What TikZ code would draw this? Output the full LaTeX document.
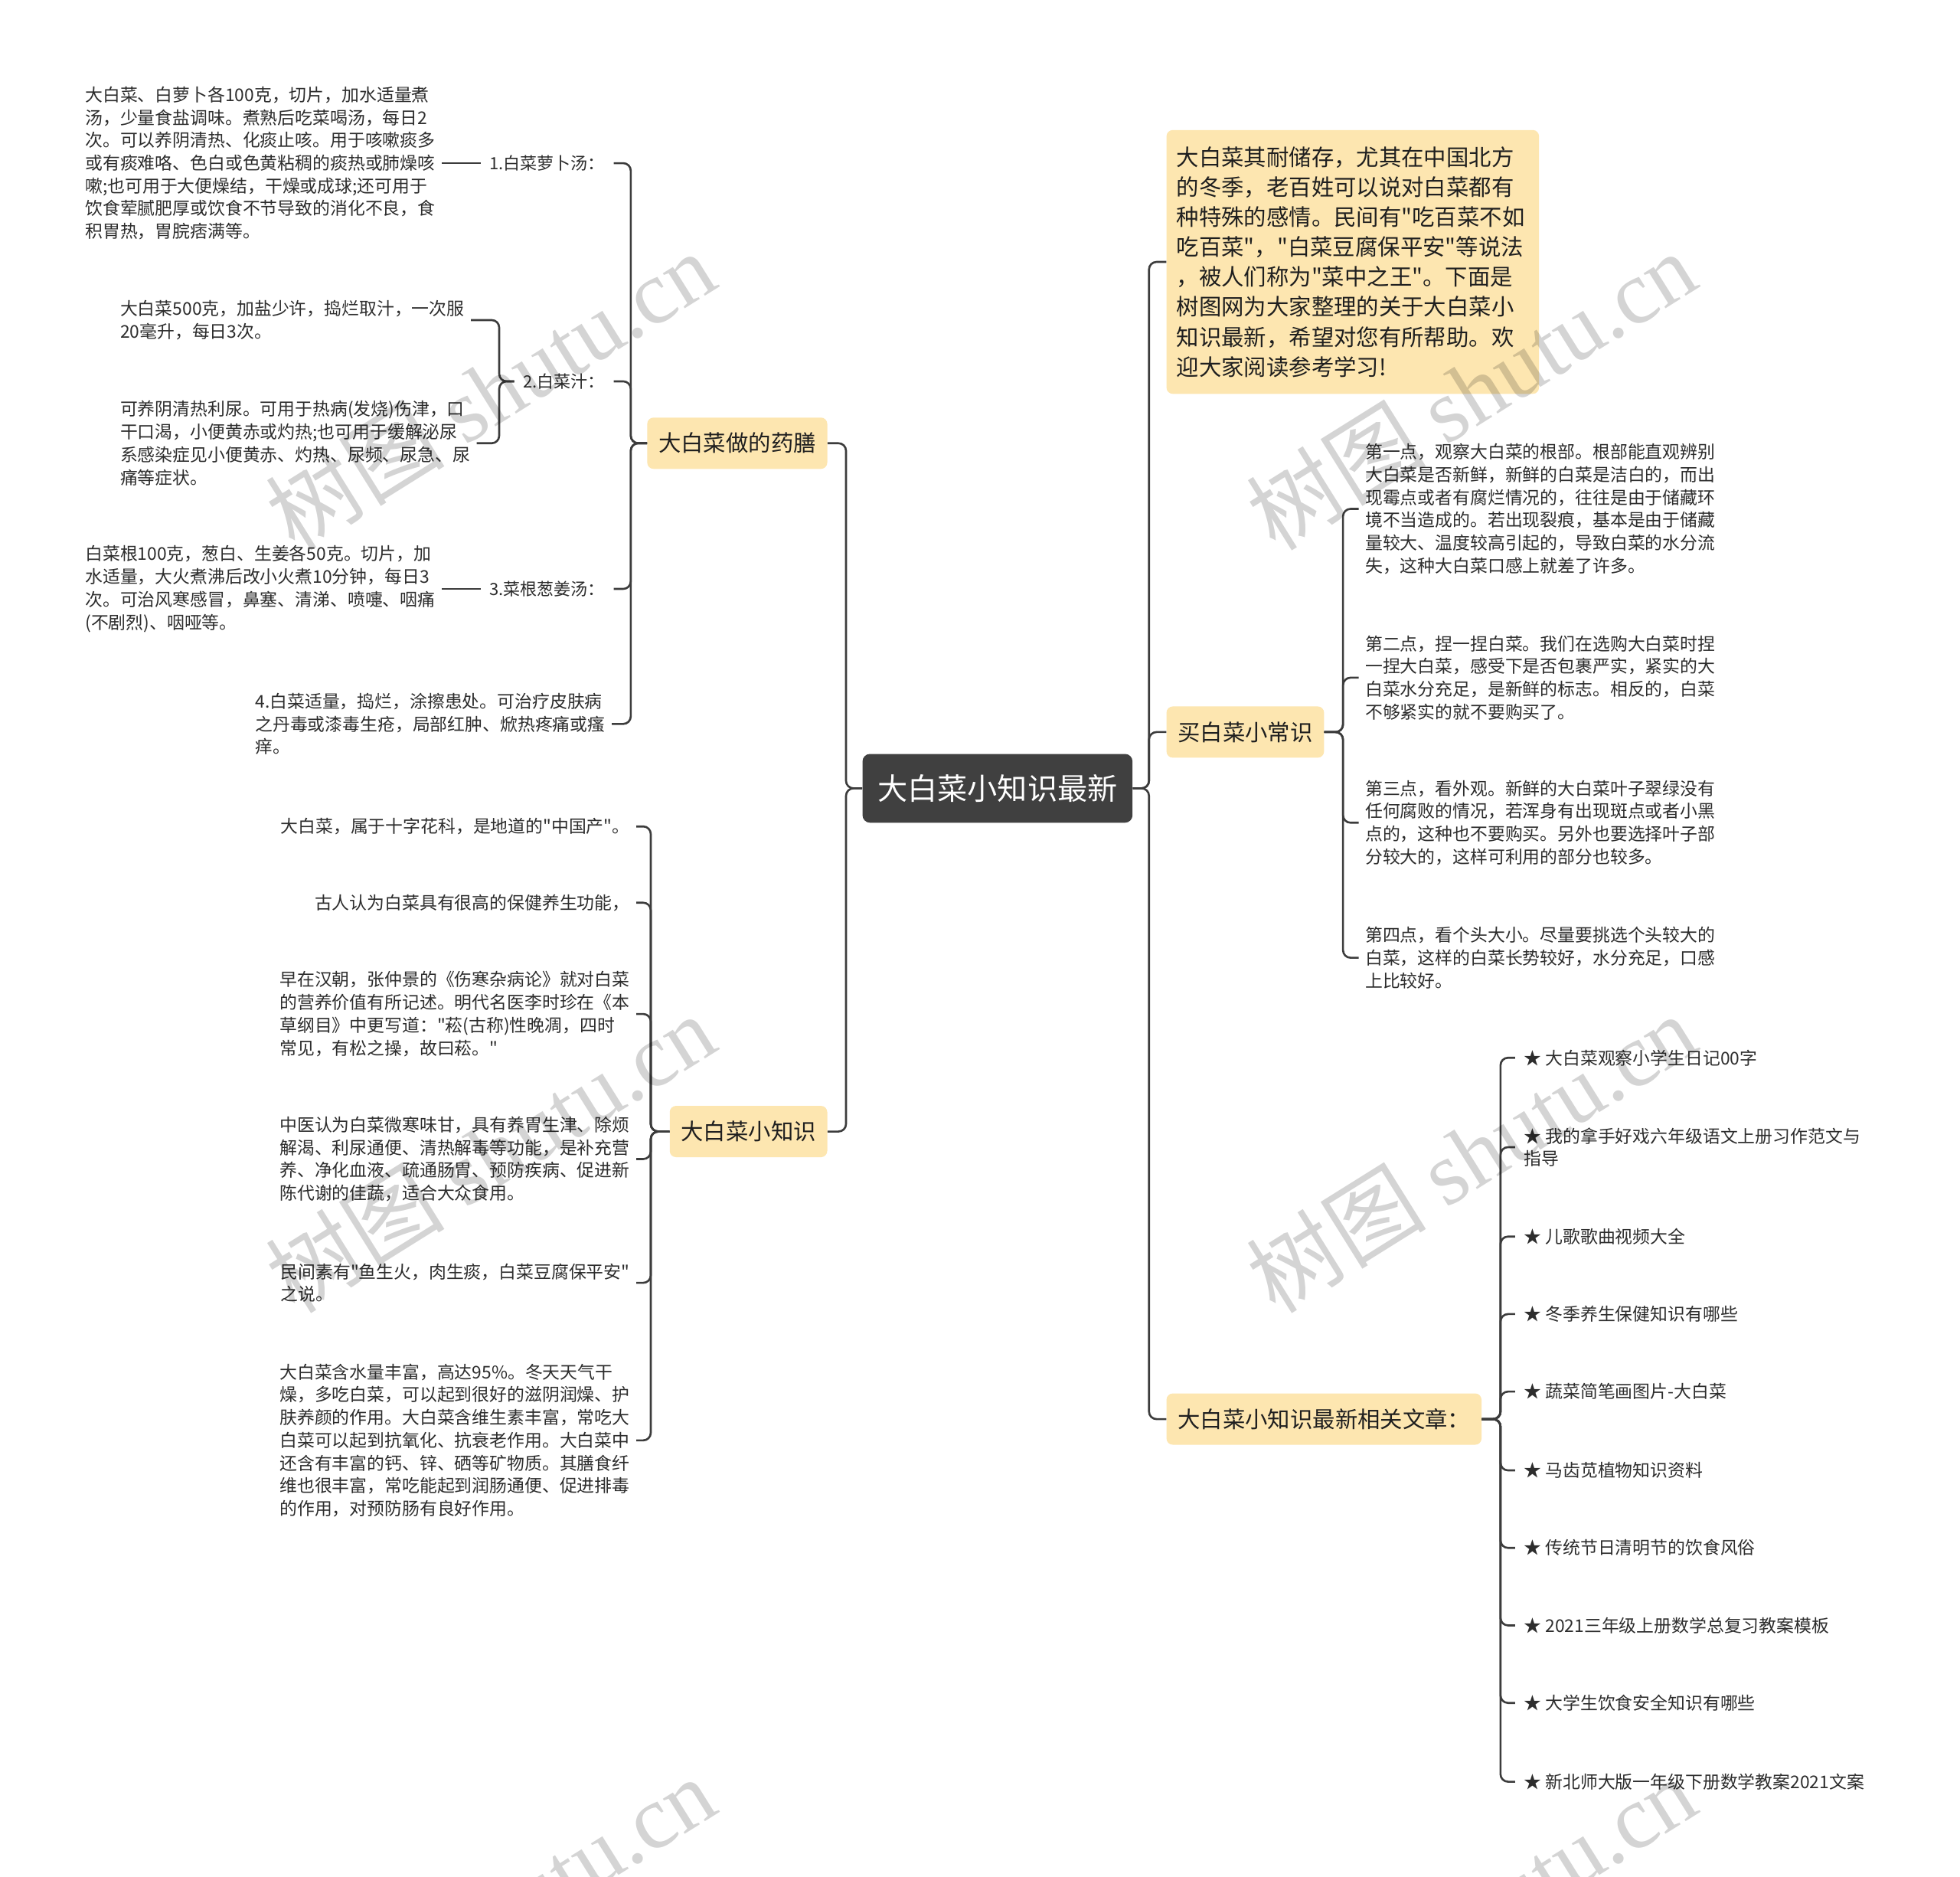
\documentclass[tikz,border=0pt]{standalone}
\usepackage{fontspec}
\setmainfont{Noto Sans CJK SC}[Ligatures=TeXOff]
\newfontfamily\wmserif{Liberation Serif}
\definecolor{boxyellow}{RGB}{253,230,176}
\definecolor{centerdark}{RGB}{64,64,64}
\definecolor{linegray}{RGB}{60,60,60}
\definecolor{textgray}{RGB}{45,45,45}
\begin{document}
\begin{tikzpicture}[x=1pt,y=-1pt,
  conn/.style={draw=linegray,line width=1.6pt,rounded corners=6pt},
  topic/.style={fill=boxyellow,rounded corners=5pt,font=\fontsize{18}{22}\selectfont,text=black!88,inner xsep=9pt,inner ysep=0pt,minimum height=41pt},
  small/.style={font=\fontsize{14}{18.2}\selectfont,text=textgray,align=left,inner xsep=5pt,inner ysep=0pt},
  lbl/.style={font=\fontsize{13.5}{16}\selectfont,text=textgray,inner xsep=7pt,inner ysep=0pt},
  item/.style={font=\fontsize{14}{18}\selectfont,text=textgray,align=left,inner xsep=7pt,inner ysep=0pt},
  wm/.style={rotate=32,text=black,text opacity=0.17,font=\fontsize{72}{72}\selectfont,inner sep=0pt}
]
\useasboundingbox (0,0) rectangle (1568,1501);
\path[fill=white] (0,0) rectangle (1568,1501);

% ---------- center ----------
\node[fill=centerdark,rounded corners=6pt,text=white,font=\fontsize{24}{28}\selectfont,inner xsep=12pt,inner ysep=0pt,minimum height=55pt] (C) at (798,630.5) {大白菜小知识最新};

% ---------- main topics ----------
\node[topic,anchor=east] (YS) at (662,354.5) {大白菜做的药膳};
\node[topic,anchor=east] (XZ) at (662,905) {大白菜小知识};
\node[topic,anchor=west,font=\fontsize{18}{24}\selectfont,align=left,text width=282pt,minimum height=211pt,inner xsep=8pt] (IN) at (933,209.5) {大白菜其耐储存，尤其在中国北方\\的冬季，老百姓可以说对白菜都有\\种特殊的感情。民间有"吃百菜不如\\吃百菜"，"白菜豆腐保平安"等说法\\，被人们称为"菜中之王"。下面是\\树图网为大家整理的关于大白菜小\\知识最新，希望对您有所帮助。欢\\迎大家阅读参考学习!};
\node[topic,anchor=west] (MB) at (933,585.5) {买白菜小常识};
\node[topic,anchor=west] (XG) at (933,1135) {大白菜小知识最新相关文章：};

% ---------- 药膳 branch ----------
\node[lbl,anchor=east] (L1) at (491,130.5) {1.白菜萝卜汤：};
\node[lbl,anchor=east] (L2) at (491,305) {2.白菜汁：};
\node[lbl,anchor=east] (L3) at (491,471) {3.菜根葱姜汤：};
\node[small,anchor=west] (T1) at (63,130.5) {大白菜、白萝卜各100克，切片，加水适量煮\\汤，少量食盐调味。煮熟后吃菜喝汤，每日2\\次。可以养阴清热、化痰止咳。用于咳嗽痰多\\或有痰难咯、色白或色黄粘稠的痰热或肺燥咳\\嗽;也可用于大便燥结，干燥或成球;还可用于\\饮食荤腻肥厚或饮食不节导致的消化不良，食\\积胃热，胃脘痞满等。};
\node[small,anchor=west] (T2a) at (91,256) {大白菜500克，加盐少许，捣烂取汁，一次服\\20毫升，每日3次。};
\node[small,anchor=west] (T2b) at (91,354.5) {可养阴清热利尿。可用于热病(发烧)伤津，口\\干口渴，小便黄赤或灼热;也可用于缓解泌尿\\系感染症见小便黄赤、灼热、尿频、尿急、尿\\痛等症状。};
\node[small,anchor=west] (T3) at (63,471) {白菜根100克，葱白、生姜各50克。切片，加\\水适量，大火煮沸后改小火煮10分钟，每日3\\次。可治风寒感冒，鼻塞、清涕、喷嚏、咽痛\\(不剧烈)、咽哑等。};
\node[small,anchor=west] (T4) at (199,579) {4.白菜适量，捣烂，涂擦患处。可治疗皮肤病\\之丹毒或漆毒生疮，局部红肿、焮热疼痛或瘙\\痒。};

% ---------- 小知识 branch ----------
\node[small,anchor=east] (K1) at (509,661) {大白菜，属于十字花科，是地道的"中国产"。};
\node[small,anchor=east] (K2) at (509,722) {古人认为白菜具有很高的保健养生功能，};
\node[small,anchor=east] (K3) at (509,811) {早在汉朝，张仲景的《伤寒杂病论》就对白菜\\的营养价值有所记述。明代名医李时珍在《本\\草纲目》中更写道："菘(古称)性晚凋，四时\\常见，有松之操，故曰菘。"};
\node[small,anchor=east] (K4) at (509,927) {中医认为白菜微寒味甘，具有养胃生津、除烦\\解渴、利尿通便、清热解毒等功能，是补充营\\养、净化血液、疏通肠胃、预防疾病、促进新\\陈代谢的佳蔬，适合大众食用。};
\node[small,anchor=east] (K5) at (509,1026) {民间素有"鱼生火，肉生痰，白菜豆腐保平安"\\之说。};
\node[small,anchor=east] (K6) at (509,1152) {大白菜含水量丰富，高达95\%。冬天天气干\\燥，多吃白菜，可以起到很好的滋阴润燥、护\\肤养颜的作用。大白菜含维生素丰富，常吃大\\白菜可以起到抗氧化、抗衰老作用。大白菜中\\还含有丰富的钙、锌、硒等矿物质。其膳食纤\\维也很丰富，常吃能起到润肠通便、促进排毒\\的作用，对预防肠有良好作用。};

% ---------- 买白菜 branch ----------
\node[small,anchor=west] (R1) at (1087,407) {第一点，观察大白菜的根部。根部能直观辨别\\大白菜是否新鲜，新鲜的白菜是洁白的，而出\\现霉点或者有腐烂情况的，往往是由于储藏环\\境不当造成的。若出现裂痕，基本是由于储藏\\量较大、温度较高引起的，导致白菜的水分流\\失，这种大白菜口感上就差了许多。};
\node[small,anchor=west] (R2) at (1087,542) {第二点，捏一捏白菜。我们在选购大白菜时捏\\一捏大白菜，感受下是否包裹严实，紧实的大\\白菜水分充足，是新鲜的标志。相反的，白菜\\不够紧实的就不要购买了。};
\node[small,anchor=west] (R3) at (1087,658) {第三点，看外观。新鲜的大白菜叶子翠绿没有\\任何腐败的情况，若浑身有出现斑点或者小黑\\点的，这种也不要购买。另外也要选择叶子部\\分较大的，这样可利用的部分也较多。};
\node[small,anchor=west] (R4) at (1087,766) {第四点，看个头大小。尽量要挑选个头较大的\\白菜，这样的白菜长势较好，水分充足，口感\\上比较好。};

% ---------- 相关文章 branch ----------
\node[item,anchor=west] (A1) at (1212,846) {★~大白菜观察小学生日记00字};
\node[item,anchor=west] (A2) at (1212,917.5) {★~我的拿手好戏六年级语文上册习作范文与\\指导};
\node[item,anchor=west] (A3) at (1212,989) {★~儿歌歌曲视频大全};
\node[item,anchor=west] (A4) at (1212,1051) {★~冬季养生保健知识有哪些};
\node[item,anchor=west] (A5) at (1212,1113) {★~蔬菜简笔画图片-大白菜};
\node[item,anchor=west] (A6) at (1212,1176) {★~马齿苋植物知识资料};
\node[item,anchor=west] (A7) at (1212,1238) {★~传统节日清明节的饮食风俗};
\node[item,anchor=west] (A8) at (1212,1300) {★~2021三年级上册数学总复习教案模板};
\node[item,anchor=west] (A9) at (1212,1362) {★~大学生饮食安全知识有哪些};
\node[item,anchor=west] (A10) at (1212,1425) {★~新北师大版一年级下册数学教案2021文案};

% ---------- connectors ----------
\foreach \t in {YS,XZ}{\draw[conn] (C.west) -- ++(-13,0) |- (\t.east);}
\foreach \t in {IN,MB,XG}{\draw[conn] (C.east) -- ++(13,0) |- (\t.west);}
\foreach \t in {L1,L2,L3,T4}{\draw[conn] (YS.west) -- ++(-13,0) |- (\t.east);}
\draw[conn] (L1.west) -- (T1.east);
\draw[conn] (L3.west) -- (T3.east);
\foreach \t in {T2a,T2b}{\draw[conn] (L2.west) -- ++(-12,0) |- (\t.east);}
\foreach \t in {K1,K2,K3,K4,K5,K6}{\draw[conn] (XZ.west) -- ++(-15,0) |- (\t.east);}
\foreach \t in {R1,R2,R3,R4}{\draw[conn] (MB.east) -- ++(15,0) |- (\t.west);}
\foreach \t in {A1,A2,A3,A4,A5,A6,A7,A8,A9,A10}{\draw[conn] (XG.east) -- ++(15,0) |- (\t.west);}

% ---------- watermark ----------
\begin{scope}
\clip (0,0) rectangle (1568,1501);
\foreach \wx/\wy [count=\i] in {392/312,1177/312,392/922,1177/922,392/1532,1177/1532}{
  \node[wm] (wm\i) at (\wx,\wy) {树图\ {\wmserif shutu.cn}};
}
\end{scope}
\end{tikzpicture}
\end{document}
